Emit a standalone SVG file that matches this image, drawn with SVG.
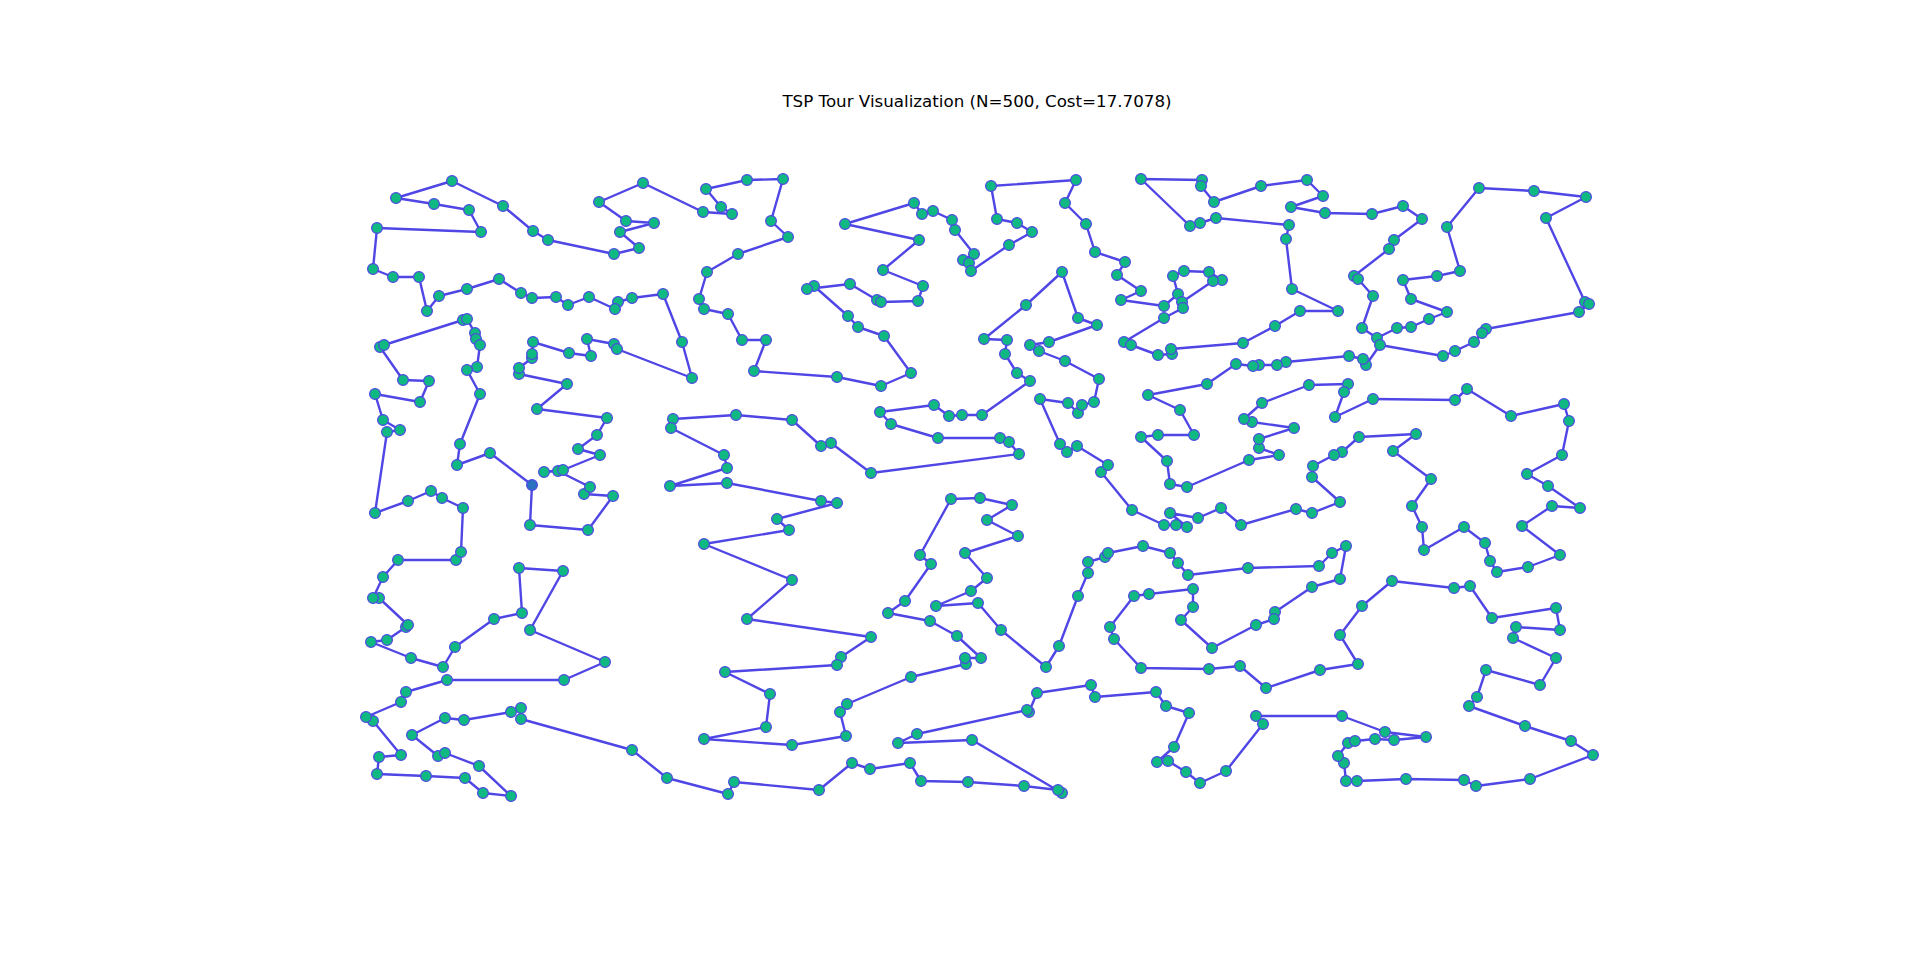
<svg xmlns="http://www.w3.org/2000/svg" width="1907" height="965" viewBox="0 0 1907 965">
<style>
.bg{fill:#ffffff}
.t{font-family:"DejaVu Sans","Liberation Sans",sans-serif;font-size:16.7px;fill:#000;text-anchor:middle}
.e{fill:none;stroke:#4f46e5;stroke-width:2.4;stroke-linejoin:round;stroke-linecap:round}
#nodes circle{fill:#10b981;stroke:#4f46e5;stroke-width:1.2}
#nodes #start circle{fill:#2b72c0}
</style>
<rect class="bg" x="0" y="0" width="1907" height="965"/>
<text class="t" x="977" y="107">TSP Tour Visualization (N=500, Cost=17.7078)</text>
<g id="connectors">
<path class="e" d="M532 485 L530 525 L588 530 L613 496 L584 494 L590 487 L558 471 L544 472 L563 470 L600 455 L578 449 L597 435 L607 418 L537 409 L567 384 L519 374 L519 368 L532 358 L532 354 L533 342 L569 353 L591 356 L587 339 L614 344 L617 349 L692 378 L682 342 L663 294 L632 298 L618 302 L615 309 L589 297 L568 305 L556 297 L532 298 L521 293 L499 279 L467 289 L439 296 L427 311 L419 277 L393 277 L373 269 L377 228 L481 232 L469 210 L434 204 L396 198 L452 181 L503 206 L533 231 L548 240 L614 254 L639 248 L620 232 L654 223 L626 221 L599 202 L643 183 L703 212 L732 214 L721 207 L706 189 L747 180 L783 179 L771 221 L788 237 L738 254 L707 272 L699 299 L704 309 L728 314 L742 340 L766 340 L754 371 L837 377 L881 386 L911 373 L884 336 L858 327 L848 316 L814 286 L807 289 L850 284 L877 300 L881 302 L918 301 L923 286 L883 270 L919 240 L845 224 L914 203 L922 214 L933 211 L952 220 L955 230 L974 254 L963 260 L969 263 L971 271 L1009 245 L1032 232 L1017 223 L997 219 L991 186 L1076 180 L1065 203 L1086 224 L1095 252 L1125 262 L1117 275 L1141 291 L1121 300 L1164 306 L1178 294 L1173 276 L1184 271 L1209 272 L1222 280 L1213 281 L1182 302 L1183 308 L1164 318 L1124 342 L1131 345 L1158 355 L1172 354 L1171 349 L1243 343 L1275 326 L1300 311 L1338 311 L1292 289 L1286 239 L1289 225 L1216 218 L1200 223 L1190 226 L1141 179 L1202 180 L1201 186 L1214 202 L1261 186 L1307 180 L1323 196 L1291 207 L1325 213 L1372 214 L1403 206 L1422 219 L1394 240 L1389 249 L1354 276 L1358 279 L1373 296 L1362 328 L1377 338 L1397 328 L1411 327 L1429 319 L1447 312 L1411 299 L1403 280 L1437 276 L1460 271 L1447 227 L1479 188 L1534 191 L1586 197 L1546 218 L1585 302 L1589 304 L1579 312 L1486 329 L1482 333 L1474 342 L1455 351 L1443 356 L1380 345 L1366 365 L1363 359 L1349 356 L1286 362 L1277 365 L1259 365 L1253 366 L1236 364 L1207 384 L1148 395 L1180 410 L1194 435 L1158 435 L1141 437 L1167 461 L1170 484 L1187 487 L1249 460 L1279 455 L1259 448 L1259 439 L1294 428 L1252 422 L1244 419 L1262 403 L1309 385 L1348 384 L1344 392 L1335 417 L1373 399 L1455 400 L1467 389 L1511 416 L1564 404 L1569 421 L1562 455 L1527 474 L1548 486 L1580 508 L1552 506 L1522 526 L1560 555 L1528 567 L1497 572 L1490 561 L1485 543 L1464 527 L1424 550 L1422 527 L1412 506 L1431 479 L1393 451 L1416 434 L1359 437 L1342 452 L1334 455 L1313 466 L1312 477 L1340 502 L1312 513 L1296 509 L1241 525 L1221 508 L1198 518 L1170 513 L1187 527 L1176 525 L1164 525 L1132 510 L1101 472 L1108 465 L1077 446 L1067 452 L1060 444 L1040 399 L1068 403 L1078 413 L1082 405 L1094 402 L1099 379 L1065 361 L1039 351 L1030 345 L1049 342 L1097 325 L1078 318 L1062 272 L1026 305 L984 339 L1007 340 L1005 354 L1017 373 L1030 381 L982 415 L962 415 L949 416 L934 405 L880 412 L891 424 L938 438 L1000 438 L1009 442 L1019 454 L871 473 L831 443 L821 446 L792 420 L736 415 L673 419 L671 428 L724 455 L727 468 L670 486 L727 483 L821 501 L837 503 L777 519 L789 530 L704 544 L792 580 L747 619 L871 637 L841 657 L837 665 L725 672 L770 694 L766 727 L704 739 L792 745 L846 736 L840 712 L847 704 L911 677 L966 664 L965 658 L981 658 L957 636 L930 621 L888 613 L905 601 L931 564 L920 555 L951 499 L980 498 L1012 505 L987 520 L1018 536 L965 553 L987 578 L971 591 L936 606 L978 603 L1001 630 L1046 667 L1059 646 L1078 596 L1088 573 L1088 562 L1105 557 L1108 553 L1143 546 L1170 553 L1178 563 L1188 575 L1248 568 L1319 566 L1332 553 L1346 546 L1340 579 L1312 587 L1275 612 L1274 619 L1256 625 L1212 648 L1181 620 L1193 607 L1193 589 L1149 594 L1134 596 L1110 627 L1114 639 L1141 668 L1209 669 L1240 666 L1266 688 L1320 670 L1358 664 L1340 635 L1362 606 L1392 581 L1454 588 L1470 586 L1492 618 L1556 608 L1560 630 L1516 627 L1513 638 L1556 658 L1540 685 L1486 670 L1477 697 L1469 706 L1525 726 L1571 741 L1593 755 L1530 779 L1476 786 L1464 780 L1406 779 L1357 781 L1346 781 L1344 763 L1338 756 L1348 743 L1355 741 L1375 739 L1394 740 L1426 737 L1385 732 L1342 716 L1256 716 L1263 724 L1226 771 L1200 783 L1186 772 L1168 761 L1157 762 L1174 747 L1189 713 L1166 706 L1156 692 L1095 697 L1091 685 L1037 693 L1029 712 L1027 710 L917 734 L898 743 L972 740 L1062 793 L1058 790 L1024 786 L968 782 L921 781 L910 763 L870 769 L852 763 L819 790 L734 782 L728 794 L667 778 L632 750 L521 719 L521 708 L511 712 L464 720 L445 718 L412 735 L438 756 L445 753 L479 766 L511 796 L483 793 L465 778 L426 776 L377 774 L379 757 L401 755 L373 721 L366 717 L401 702 L406 692 L447 680 L564 680 L605 662 L530 630 L563 571 L519 568 L522 613 L494 619 L455 647 L443 667 L411 658 L371 642 L387 640 L406 627 L408 625 L379 598 L373 598 L383 577 L398 560 L456 560 L461 552 L463 508 L442 498 L431 491 L408 501 L375 513 L387 432 L400 430 L383 420 L375 394 L420 402 L429 381 L403 380 L380 347 L384 345 L463 320 L467 319 L475 333 L476 339 L480 345 L477 367 L467 370 L480 394 L460 444 L457 465 L490 453 Z"/>
</g>
<g id="nodes">
<g id="n1"><circle cx="530" cy="525" r="5.4"/></g><g id="n2"><circle cx="588" cy="530" r="5.4"/></g><g id="n3"><circle cx="613" cy="496" r="5.4"/></g><g id="n4"><circle cx="584" cy="494" r="5.4"/></g><g id="n5"><circle cx="590" cy="487" r="5.4"/></g><g id="n6"><circle cx="558" cy="471" r="5.4"/></g><g id="n7"><circle cx="544" cy="472" r="5.4"/></g><g id="n8"><circle cx="563" cy="470" r="5.4"/></g><g id="n9"><circle cx="600" cy="455" r="5.4"/></g><g id="n10"><circle cx="578" cy="449" r="5.4"/></g>
<g id="n11"><circle cx="597" cy="435" r="5.4"/></g><g id="n12"><circle cx="607" cy="418" r="5.4"/></g><g id="n13"><circle cx="537" cy="409" r="5.4"/></g><g id="n14"><circle cx="567" cy="384" r="5.4"/></g><g id="n15"><circle cx="519" cy="374" r="5.4"/></g><g id="n16"><circle cx="519" cy="368" r="5.4"/></g><g id="n17"><circle cx="532" cy="358" r="5.4"/></g><g id="n18"><circle cx="532" cy="354" r="5.4"/></g><g id="n19"><circle cx="533" cy="342" r="5.4"/></g><g id="n20"><circle cx="569" cy="353" r="5.4"/></g>
<g id="n21"><circle cx="591" cy="356" r="5.4"/></g><g id="n22"><circle cx="587" cy="339" r="5.4"/></g><g id="n23"><circle cx="614" cy="344" r="5.4"/></g><g id="n24"><circle cx="617" cy="349" r="5.4"/></g><g id="n25"><circle cx="692" cy="378" r="5.4"/></g><g id="n26"><circle cx="682" cy="342" r="5.4"/></g><g id="n27"><circle cx="663" cy="294" r="5.4"/></g><g id="n28"><circle cx="632" cy="298" r="5.4"/></g><g id="n29"><circle cx="618" cy="302" r="5.4"/></g><g id="n30"><circle cx="615" cy="309" r="5.4"/></g>
<g id="n31"><circle cx="589" cy="297" r="5.4"/></g><g id="n32"><circle cx="568" cy="305" r="5.4"/></g><g id="n33"><circle cx="556" cy="297" r="5.4"/></g><g id="n34"><circle cx="532" cy="298" r="5.4"/></g><g id="n35"><circle cx="521" cy="293" r="5.4"/></g><g id="n36"><circle cx="499" cy="279" r="5.4"/></g><g id="n37"><circle cx="467" cy="289" r="5.4"/></g><g id="n38"><circle cx="439" cy="296" r="5.4"/></g><g id="n39"><circle cx="427" cy="311" r="5.4"/></g><g id="n40"><circle cx="419" cy="277" r="5.4"/></g>
<g id="n41"><circle cx="393" cy="277" r="5.4"/></g><g id="n42"><circle cx="373" cy="269" r="5.4"/></g><g id="n43"><circle cx="377" cy="228" r="5.4"/></g><g id="n44"><circle cx="481" cy="232" r="5.4"/></g><g id="n45"><circle cx="469" cy="210" r="5.4"/></g><g id="n46"><circle cx="434" cy="204" r="5.4"/></g><g id="n47"><circle cx="396" cy="198" r="5.4"/></g><g id="n48"><circle cx="452" cy="181" r="5.4"/></g><g id="n49"><circle cx="503" cy="206" r="5.4"/></g><g id="n50"><circle cx="533" cy="231" r="5.4"/></g>
<g id="n51"><circle cx="548" cy="240" r="5.4"/></g><g id="n52"><circle cx="614" cy="254" r="5.4"/></g><g id="n53"><circle cx="639" cy="248" r="5.4"/></g><g id="n54"><circle cx="620" cy="232" r="5.4"/></g><g id="n55"><circle cx="654" cy="223" r="5.4"/></g><g id="n56"><circle cx="626" cy="221" r="5.4"/></g><g id="n57"><circle cx="599" cy="202" r="5.4"/></g><g id="n58"><circle cx="643" cy="183" r="5.4"/></g><g id="n59"><circle cx="703" cy="212" r="5.4"/></g><g id="n60"><circle cx="732" cy="214" r="5.4"/></g>
<g id="n61"><circle cx="721" cy="207" r="5.4"/></g><g id="n62"><circle cx="706" cy="189" r="5.4"/></g><g id="n63"><circle cx="747" cy="180" r="5.4"/></g><g id="n64"><circle cx="783" cy="179" r="5.4"/></g><g id="n65"><circle cx="771" cy="221" r="5.4"/></g><g id="n66"><circle cx="788" cy="237" r="5.4"/></g><g id="n67"><circle cx="738" cy="254" r="5.4"/></g><g id="n68"><circle cx="707" cy="272" r="5.4"/></g><g id="n69"><circle cx="699" cy="299" r="5.4"/></g><g id="n70"><circle cx="704" cy="309" r="5.4"/></g>
<g id="n71"><circle cx="728" cy="314" r="5.4"/></g><g id="n72"><circle cx="742" cy="340" r="5.4"/></g><g id="n73"><circle cx="766" cy="340" r="5.4"/></g><g id="n74"><circle cx="754" cy="371" r="5.4"/></g><g id="n75"><circle cx="837" cy="377" r="5.4"/></g><g id="n76"><circle cx="881" cy="386" r="5.4"/></g><g id="n77"><circle cx="911" cy="373" r="5.4"/></g><g id="n78"><circle cx="884" cy="336" r="5.4"/></g><g id="n79"><circle cx="858" cy="327" r="5.4"/></g><g id="n80"><circle cx="848" cy="316" r="5.4"/></g>
<g id="n81"><circle cx="814" cy="286" r="5.4"/></g><g id="n82"><circle cx="807" cy="289" r="5.4"/></g><g id="n83"><circle cx="850" cy="284" r="5.4"/></g><g id="n84"><circle cx="877" cy="300" r="5.4"/></g><g id="n85"><circle cx="881" cy="302" r="5.4"/></g><g id="n86"><circle cx="918" cy="301" r="5.4"/></g><g id="n87"><circle cx="923" cy="286" r="5.4"/></g><g id="n88"><circle cx="883" cy="270" r="5.4"/></g><g id="n89"><circle cx="919" cy="240" r="5.4"/></g><g id="n90"><circle cx="845" cy="224" r="5.4"/></g>
<g id="n91"><circle cx="914" cy="203" r="5.4"/></g><g id="n92"><circle cx="922" cy="214" r="5.4"/></g><g id="n93"><circle cx="933" cy="211" r="5.4"/></g><g id="n94"><circle cx="952" cy="220" r="5.4"/></g><g id="n95"><circle cx="955" cy="230" r="5.4"/></g><g id="n96"><circle cx="974" cy="254" r="5.4"/></g><g id="n97"><circle cx="963" cy="260" r="5.4"/></g><g id="n98"><circle cx="969" cy="263" r="5.4"/></g><g id="n99"><circle cx="971" cy="271" r="5.4"/></g><g id="n100"><circle cx="1009" cy="245" r="5.4"/></g>
<g id="n101"><circle cx="1032" cy="232" r="5.4"/></g><g id="n102"><circle cx="1017" cy="223" r="5.4"/></g><g id="n103"><circle cx="997" cy="219" r="5.4"/></g><g id="n104"><circle cx="991" cy="186" r="5.4"/></g><g id="n105"><circle cx="1076" cy="180" r="5.4"/></g><g id="n106"><circle cx="1065" cy="203" r="5.4"/></g><g id="n107"><circle cx="1086" cy="224" r="5.4"/></g><g id="n108"><circle cx="1095" cy="252" r="5.4"/></g><g id="n109"><circle cx="1125" cy="262" r="5.4"/></g><g id="n110"><circle cx="1117" cy="275" r="5.4"/></g>
<g id="n111"><circle cx="1141" cy="291" r="5.4"/></g><g id="n112"><circle cx="1121" cy="300" r="5.4"/></g><g id="n113"><circle cx="1164" cy="306" r="5.4"/></g><g id="n114"><circle cx="1178" cy="294" r="5.4"/></g><g id="n115"><circle cx="1173" cy="276" r="5.4"/></g><g id="n116"><circle cx="1184" cy="271" r="5.4"/></g><g id="n117"><circle cx="1209" cy="272" r="5.4"/></g><g id="n118"><circle cx="1222" cy="280" r="5.4"/></g><g id="n119"><circle cx="1213" cy="281" r="5.4"/></g><g id="n120"><circle cx="1182" cy="302" r="5.4"/></g>
<g id="n121"><circle cx="1183" cy="308" r="5.4"/></g><g id="n122"><circle cx="1164" cy="318" r="5.4"/></g><g id="n123"><circle cx="1124" cy="342" r="5.4"/></g><g id="n124"><circle cx="1131" cy="345" r="5.4"/></g><g id="n125"><circle cx="1158" cy="355" r="5.4"/></g><g id="n126"><circle cx="1172" cy="354" r="5.4"/></g><g id="n127"><circle cx="1171" cy="349" r="5.4"/></g><g id="n128"><circle cx="1243" cy="343" r="5.4"/></g><g id="n129"><circle cx="1275" cy="326" r="5.4"/></g><g id="n130"><circle cx="1300" cy="311" r="5.4"/></g>
<g id="n131"><circle cx="1338" cy="311" r="5.4"/></g><g id="n132"><circle cx="1292" cy="289" r="5.4"/></g><g id="n133"><circle cx="1286" cy="239" r="5.4"/></g><g id="n134"><circle cx="1289" cy="225" r="5.4"/></g><g id="n135"><circle cx="1216" cy="218" r="5.4"/></g><g id="n136"><circle cx="1200" cy="223" r="5.4"/></g><g id="n137"><circle cx="1190" cy="226" r="5.4"/></g><g id="n138"><circle cx="1141" cy="179" r="5.4"/></g><g id="n139"><circle cx="1202" cy="180" r="5.4"/></g><g id="n140"><circle cx="1201" cy="186" r="5.4"/></g>
<g id="n141"><circle cx="1214" cy="202" r="5.4"/></g><g id="n142"><circle cx="1261" cy="186" r="5.4"/></g><g id="n143"><circle cx="1307" cy="180" r="5.4"/></g><g id="n144"><circle cx="1323" cy="196" r="5.4"/></g><g id="n145"><circle cx="1291" cy="207" r="5.4"/></g><g id="n146"><circle cx="1325" cy="213" r="5.4"/></g><g id="n147"><circle cx="1372" cy="214" r="5.4"/></g><g id="n148"><circle cx="1403" cy="206" r="5.4"/></g><g id="n149"><circle cx="1422" cy="219" r="5.4"/></g><g id="n150"><circle cx="1394" cy="240" r="5.4"/></g>
<g id="n151"><circle cx="1389" cy="249" r="5.4"/></g><g id="n152"><circle cx="1354" cy="276" r="5.4"/></g><g id="n153"><circle cx="1358" cy="279" r="5.4"/></g><g id="n154"><circle cx="1373" cy="296" r="5.4"/></g><g id="n155"><circle cx="1362" cy="328" r="5.4"/></g><g id="n156"><circle cx="1377" cy="338" r="5.4"/></g><g id="n157"><circle cx="1397" cy="328" r="5.4"/></g><g id="n158"><circle cx="1411" cy="327" r="5.4"/></g><g id="n159"><circle cx="1429" cy="319" r="5.4"/></g><g id="n160"><circle cx="1447" cy="312" r="5.4"/></g>
<g id="n161"><circle cx="1411" cy="299" r="5.4"/></g><g id="n162"><circle cx="1403" cy="280" r="5.4"/></g><g id="n163"><circle cx="1437" cy="276" r="5.4"/></g><g id="n164"><circle cx="1460" cy="271" r="5.4"/></g><g id="n165"><circle cx="1447" cy="227" r="5.4"/></g><g id="n166"><circle cx="1479" cy="188" r="5.4"/></g><g id="n167"><circle cx="1534" cy="191" r="5.4"/></g><g id="n168"><circle cx="1586" cy="197" r="5.4"/></g><g id="n169"><circle cx="1546" cy="218" r="5.4"/></g><g id="n170"><circle cx="1585" cy="302" r="5.4"/></g>
<g id="n171"><circle cx="1589" cy="304" r="5.4"/></g><g id="n172"><circle cx="1579" cy="312" r="5.4"/></g><g id="n173"><circle cx="1486" cy="329" r="5.4"/></g><g id="n174"><circle cx="1482" cy="333" r="5.4"/></g><g id="n175"><circle cx="1474" cy="342" r="5.4"/></g><g id="n176"><circle cx="1455" cy="351" r="5.4"/></g><g id="n177"><circle cx="1443" cy="356" r="5.4"/></g><g id="n178"><circle cx="1380" cy="345" r="5.4"/></g><g id="n179"><circle cx="1366" cy="365" r="5.4"/></g><g id="n180"><circle cx="1363" cy="359" r="5.4"/></g>
<g id="n181"><circle cx="1349" cy="356" r="5.4"/></g><g id="n182"><circle cx="1286" cy="362" r="5.4"/></g><g id="n183"><circle cx="1277" cy="365" r="5.4"/></g><g id="n184"><circle cx="1259" cy="365" r="5.4"/></g><g id="n185"><circle cx="1253" cy="366" r="5.4"/></g><g id="n186"><circle cx="1236" cy="364" r="5.4"/></g><g id="n187"><circle cx="1207" cy="384" r="5.4"/></g><g id="n188"><circle cx="1148" cy="395" r="5.4"/></g><g id="n189"><circle cx="1180" cy="410" r="5.4"/></g><g id="n190"><circle cx="1194" cy="435" r="5.4"/></g>
<g id="n191"><circle cx="1158" cy="435" r="5.4"/></g><g id="n192"><circle cx="1141" cy="437" r="5.4"/></g><g id="n193"><circle cx="1167" cy="461" r="5.4"/></g><g id="n194"><circle cx="1170" cy="484" r="5.4"/></g><g id="n195"><circle cx="1187" cy="487" r="5.4"/></g><g id="n196"><circle cx="1249" cy="460" r="5.4"/></g><g id="n197"><circle cx="1279" cy="455" r="5.4"/></g><g id="n198"><circle cx="1259" cy="448" r="5.4"/></g><g id="n199"><circle cx="1259" cy="439" r="5.4"/></g><g id="n200"><circle cx="1294" cy="428" r="5.4"/></g>
<g id="n201"><circle cx="1252" cy="422" r="5.4"/></g><g id="n202"><circle cx="1244" cy="419" r="5.4"/></g><g id="n203"><circle cx="1262" cy="403" r="5.4"/></g><g id="n204"><circle cx="1309" cy="385" r="5.4"/></g><g id="n205"><circle cx="1348" cy="384" r="5.4"/></g><g id="n206"><circle cx="1344" cy="392" r="5.4"/></g><g id="n207"><circle cx="1335" cy="417" r="5.4"/></g><g id="n208"><circle cx="1373" cy="399" r="5.4"/></g><g id="n209"><circle cx="1455" cy="400" r="5.4"/></g><g id="n210"><circle cx="1467" cy="389" r="5.4"/></g>
<g id="n211"><circle cx="1511" cy="416" r="5.4"/></g><g id="n212"><circle cx="1564" cy="404" r="5.4"/></g><g id="n213"><circle cx="1569" cy="421" r="5.4"/></g><g id="n214"><circle cx="1562" cy="455" r="5.4"/></g><g id="n215"><circle cx="1527" cy="474" r="5.4"/></g><g id="n216"><circle cx="1548" cy="486" r="5.4"/></g><g id="n217"><circle cx="1580" cy="508" r="5.4"/></g><g id="n218"><circle cx="1552" cy="506" r="5.4"/></g><g id="n219"><circle cx="1522" cy="526" r="5.4"/></g><g id="n220"><circle cx="1560" cy="555" r="5.4"/></g>
<g id="n221"><circle cx="1528" cy="567" r="5.4"/></g><g id="n222"><circle cx="1497" cy="572" r="5.4"/></g><g id="n223"><circle cx="1490" cy="561" r="5.4"/></g><g id="n224"><circle cx="1485" cy="543" r="5.4"/></g><g id="n225"><circle cx="1464" cy="527" r="5.4"/></g><g id="n226"><circle cx="1424" cy="550" r="5.4"/></g><g id="n227"><circle cx="1422" cy="527" r="5.4"/></g><g id="n228"><circle cx="1412" cy="506" r="5.4"/></g><g id="n229"><circle cx="1431" cy="479" r="5.4"/></g><g id="n230"><circle cx="1393" cy="451" r="5.4"/></g>
<g id="n231"><circle cx="1416" cy="434" r="5.4"/></g><g id="n232"><circle cx="1359" cy="437" r="5.4"/></g><g id="n233"><circle cx="1342" cy="452" r="5.4"/></g><g id="n234"><circle cx="1334" cy="455" r="5.4"/></g><g id="n235"><circle cx="1313" cy="466" r="5.4"/></g><g id="n236"><circle cx="1312" cy="477" r="5.4"/></g><g id="n237"><circle cx="1340" cy="502" r="5.4"/></g><g id="n238"><circle cx="1312" cy="513" r="5.4"/></g><g id="n239"><circle cx="1296" cy="509" r="5.4"/></g><g id="n240"><circle cx="1241" cy="525" r="5.4"/></g>
<g id="n241"><circle cx="1221" cy="508" r="5.4"/></g><g id="n242"><circle cx="1198" cy="518" r="5.4"/></g><g id="n243"><circle cx="1170" cy="513" r="5.4"/></g><g id="n244"><circle cx="1187" cy="527" r="5.4"/></g><g id="n245"><circle cx="1176" cy="525" r="5.4"/></g><g id="n246"><circle cx="1164" cy="525" r="5.4"/></g><g id="n247"><circle cx="1132" cy="510" r="5.4"/></g><g id="n248"><circle cx="1101" cy="472" r="5.4"/></g><g id="n249"><circle cx="1108" cy="465" r="5.4"/></g><g id="n250"><circle cx="1077" cy="446" r="5.4"/></g>
<g id="n251"><circle cx="1067" cy="452" r="5.4"/></g><g id="n252"><circle cx="1060" cy="444" r="5.4"/></g><g id="n253"><circle cx="1040" cy="399" r="5.4"/></g><g id="n254"><circle cx="1068" cy="403" r="5.4"/></g><g id="n255"><circle cx="1078" cy="413" r="5.4"/></g><g id="n256"><circle cx="1082" cy="405" r="5.4"/></g><g id="n257"><circle cx="1094" cy="402" r="5.4"/></g><g id="n258"><circle cx="1099" cy="379" r="5.4"/></g><g id="n259"><circle cx="1065" cy="361" r="5.4"/></g><g id="n260"><circle cx="1039" cy="351" r="5.4"/></g>
<g id="n261"><circle cx="1030" cy="345" r="5.4"/></g><g id="n262"><circle cx="1049" cy="342" r="5.4"/></g><g id="n263"><circle cx="1097" cy="325" r="5.4"/></g><g id="n264"><circle cx="1078" cy="318" r="5.4"/></g><g id="n265"><circle cx="1062" cy="272" r="5.4"/></g><g id="n266"><circle cx="1026" cy="305" r="5.4"/></g><g id="n267"><circle cx="984" cy="339" r="5.4"/></g><g id="n268"><circle cx="1007" cy="340" r="5.4"/></g><g id="n269"><circle cx="1005" cy="354" r="5.4"/></g><g id="n270"><circle cx="1017" cy="373" r="5.4"/></g>
<g id="n271"><circle cx="1030" cy="381" r="5.4"/></g><g id="n272"><circle cx="982" cy="415" r="5.4"/></g><g id="n273"><circle cx="962" cy="415" r="5.4"/></g><g id="n274"><circle cx="949" cy="416" r="5.4"/></g><g id="n275"><circle cx="934" cy="405" r="5.4"/></g><g id="n276"><circle cx="880" cy="412" r="5.4"/></g><g id="n277"><circle cx="891" cy="424" r="5.4"/></g><g id="n278"><circle cx="938" cy="438" r="5.4"/></g><g id="n279"><circle cx="1000" cy="438" r="5.4"/></g><g id="n280"><circle cx="1009" cy="442" r="5.4"/></g>
<g id="n281"><circle cx="1019" cy="454" r="5.4"/></g><g id="n282"><circle cx="871" cy="473" r="5.4"/></g><g id="n283"><circle cx="831" cy="443" r="5.4"/></g><g id="n284"><circle cx="821" cy="446" r="5.4"/></g><g id="n285"><circle cx="792" cy="420" r="5.4"/></g><g id="n286"><circle cx="736" cy="415" r="5.4"/></g><g id="n287"><circle cx="673" cy="419" r="5.4"/></g><g id="n288"><circle cx="671" cy="428" r="5.4"/></g><g id="n289"><circle cx="724" cy="455" r="5.4"/></g><g id="n290"><circle cx="727" cy="468" r="5.4"/></g>
<g id="n291"><circle cx="670" cy="486" r="5.4"/></g><g id="n292"><circle cx="727" cy="483" r="5.4"/></g><g id="n293"><circle cx="821" cy="501" r="5.4"/></g><g id="n294"><circle cx="837" cy="503" r="5.4"/></g><g id="n295"><circle cx="777" cy="519" r="5.4"/></g><g id="n296"><circle cx="789" cy="530" r="5.4"/></g><g id="n297"><circle cx="704" cy="544" r="5.4"/></g><g id="n298"><circle cx="792" cy="580" r="5.4"/></g><g id="n299"><circle cx="747" cy="619" r="5.4"/></g><g id="n300"><circle cx="871" cy="637" r="5.4"/></g>
<g id="n301"><circle cx="841" cy="657" r="5.4"/></g><g id="n302"><circle cx="837" cy="665" r="5.4"/></g><g id="n303"><circle cx="725" cy="672" r="5.4"/></g><g id="n304"><circle cx="770" cy="694" r="5.4"/></g><g id="n305"><circle cx="766" cy="727" r="5.4"/></g><g id="n306"><circle cx="704" cy="739" r="5.4"/></g><g id="n307"><circle cx="792" cy="745" r="5.4"/></g><g id="n308"><circle cx="846" cy="736" r="5.4"/></g><g id="n309"><circle cx="840" cy="712" r="5.4"/></g><g id="n310"><circle cx="847" cy="704" r="5.4"/></g>
<g id="n311"><circle cx="911" cy="677" r="5.4"/></g><g id="n312"><circle cx="966" cy="664" r="5.4"/></g><g id="n313"><circle cx="965" cy="658" r="5.4"/></g><g id="n314"><circle cx="981" cy="658" r="5.4"/></g><g id="n315"><circle cx="957" cy="636" r="5.4"/></g><g id="n316"><circle cx="930" cy="621" r="5.4"/></g><g id="n317"><circle cx="888" cy="613" r="5.4"/></g><g id="n318"><circle cx="905" cy="601" r="5.4"/></g><g id="n319"><circle cx="931" cy="564" r="5.4"/></g><g id="n320"><circle cx="920" cy="555" r="5.4"/></g>
<g id="n321"><circle cx="951" cy="499" r="5.4"/></g><g id="n322"><circle cx="980" cy="498" r="5.4"/></g><g id="n323"><circle cx="1012" cy="505" r="5.4"/></g><g id="n324"><circle cx="987" cy="520" r="5.4"/></g><g id="n325"><circle cx="1018" cy="536" r="5.4"/></g><g id="n326"><circle cx="965" cy="553" r="5.4"/></g><g id="n327"><circle cx="987" cy="578" r="5.4"/></g><g id="n328"><circle cx="971" cy="591" r="5.4"/></g><g id="n329"><circle cx="936" cy="606" r="5.4"/></g><g id="n330"><circle cx="978" cy="603" r="5.4"/></g>
<g id="n331"><circle cx="1001" cy="630" r="5.4"/></g><g id="n332"><circle cx="1046" cy="667" r="5.4"/></g><g id="n333"><circle cx="1059" cy="646" r="5.4"/></g><g id="n334"><circle cx="1078" cy="596" r="5.4"/></g><g id="n335"><circle cx="1088" cy="573" r="5.4"/></g><g id="n336"><circle cx="1088" cy="562" r="5.4"/></g><g id="n337"><circle cx="1105" cy="557" r="5.4"/></g><g id="n338"><circle cx="1108" cy="553" r="5.4"/></g><g id="n339"><circle cx="1143" cy="546" r="5.4"/></g><g id="n340"><circle cx="1170" cy="553" r="5.4"/></g>
<g id="n341"><circle cx="1178" cy="563" r="5.4"/></g><g id="n342"><circle cx="1188" cy="575" r="5.4"/></g><g id="n343"><circle cx="1248" cy="568" r="5.4"/></g><g id="n344"><circle cx="1319" cy="566" r="5.4"/></g><g id="n345"><circle cx="1332" cy="553" r="5.4"/></g><g id="n346"><circle cx="1346" cy="546" r="5.4"/></g><g id="n347"><circle cx="1340" cy="579" r="5.4"/></g><g id="n348"><circle cx="1312" cy="587" r="5.4"/></g><g id="n349"><circle cx="1275" cy="612" r="5.4"/></g><g id="n350"><circle cx="1274" cy="619" r="5.4"/></g>
<g id="n351"><circle cx="1256" cy="625" r="5.4"/></g><g id="n352"><circle cx="1212" cy="648" r="5.4"/></g><g id="n353"><circle cx="1181" cy="620" r="5.4"/></g><g id="n354"><circle cx="1193" cy="607" r="5.4"/></g><g id="n355"><circle cx="1193" cy="589" r="5.4"/></g><g id="n356"><circle cx="1149" cy="594" r="5.4"/></g><g id="n357"><circle cx="1134" cy="596" r="5.4"/></g><g id="n358"><circle cx="1110" cy="627" r="5.4"/></g><g id="n359"><circle cx="1114" cy="639" r="5.4"/></g><g id="n360"><circle cx="1141" cy="668" r="5.4"/></g>
<g id="n361"><circle cx="1209" cy="669" r="5.4"/></g><g id="n362"><circle cx="1240" cy="666" r="5.4"/></g><g id="n363"><circle cx="1266" cy="688" r="5.4"/></g><g id="n364"><circle cx="1320" cy="670" r="5.4"/></g><g id="n365"><circle cx="1358" cy="664" r="5.4"/></g><g id="n366"><circle cx="1340" cy="635" r="5.4"/></g><g id="n367"><circle cx="1362" cy="606" r="5.4"/></g><g id="n368"><circle cx="1392" cy="581" r="5.4"/></g><g id="n369"><circle cx="1454" cy="588" r="5.4"/></g><g id="n370"><circle cx="1470" cy="586" r="5.4"/></g>
<g id="n371"><circle cx="1492" cy="618" r="5.4"/></g><g id="n372"><circle cx="1556" cy="608" r="5.4"/></g><g id="n373"><circle cx="1560" cy="630" r="5.4"/></g><g id="n374"><circle cx="1516" cy="627" r="5.4"/></g><g id="n375"><circle cx="1513" cy="638" r="5.4"/></g><g id="n376"><circle cx="1556" cy="658" r="5.4"/></g><g id="n377"><circle cx="1540" cy="685" r="5.4"/></g><g id="n378"><circle cx="1486" cy="670" r="5.4"/></g><g id="n379"><circle cx="1477" cy="697" r="5.4"/></g><g id="n380"><circle cx="1469" cy="706" r="5.4"/></g>
<g id="n381"><circle cx="1525" cy="726" r="5.4"/></g><g id="n382"><circle cx="1571" cy="741" r="5.4"/></g><g id="n383"><circle cx="1593" cy="755" r="5.4"/></g><g id="n384"><circle cx="1530" cy="779" r="5.4"/></g><g id="n385"><circle cx="1476" cy="786" r="5.4"/></g><g id="n386"><circle cx="1464" cy="780" r="5.4"/></g><g id="n387"><circle cx="1406" cy="779" r="5.4"/></g><g id="n388"><circle cx="1357" cy="781" r="5.4"/></g><g id="n389"><circle cx="1346" cy="781" r="5.4"/></g><g id="n390"><circle cx="1344" cy="763" r="5.4"/></g>
<g id="n391"><circle cx="1338" cy="756" r="5.4"/></g><g id="n392"><circle cx="1348" cy="743" r="5.4"/></g><g id="n393"><circle cx="1355" cy="741" r="5.4"/></g><g id="n394"><circle cx="1375" cy="739" r="5.4"/></g><g id="n395"><circle cx="1394" cy="740" r="5.4"/></g><g id="n396"><circle cx="1426" cy="737" r="5.4"/></g><g id="n397"><circle cx="1385" cy="732" r="5.4"/></g><g id="n398"><circle cx="1342" cy="716" r="5.4"/></g><g id="n399"><circle cx="1256" cy="716" r="5.4"/></g><g id="n400"><circle cx="1263" cy="724" r="5.4"/></g>
<g id="n401"><circle cx="1226" cy="771" r="5.4"/></g><g id="n402"><circle cx="1200" cy="783" r="5.4"/></g><g id="n403"><circle cx="1186" cy="772" r="5.4"/></g><g id="n404"><circle cx="1168" cy="761" r="5.4"/></g><g id="n405"><circle cx="1157" cy="762" r="5.4"/></g><g id="n406"><circle cx="1174" cy="747" r="5.4"/></g><g id="n407"><circle cx="1189" cy="713" r="5.4"/></g><g id="n408"><circle cx="1166" cy="706" r="5.4"/></g><g id="n409"><circle cx="1156" cy="692" r="5.4"/></g><g id="n410"><circle cx="1095" cy="697" r="5.4"/></g>
<g id="n411"><circle cx="1091" cy="685" r="5.4"/></g><g id="n412"><circle cx="1037" cy="693" r="5.4"/></g><g id="n413"><circle cx="1029" cy="712" r="5.4"/></g><g id="n414"><circle cx="1027" cy="710" r="5.4"/></g><g id="n415"><circle cx="917" cy="734" r="5.4"/></g><g id="n416"><circle cx="898" cy="743" r="5.4"/></g><g id="n417"><circle cx="972" cy="740" r="5.4"/></g><g id="n418"><circle cx="1062" cy="793" r="5.4"/></g><g id="n419"><circle cx="1058" cy="790" r="5.4"/></g><g id="n420"><circle cx="1024" cy="786" r="5.4"/></g>
<g id="n421"><circle cx="968" cy="782" r="5.4"/></g><g id="n422"><circle cx="921" cy="781" r="5.4"/></g><g id="n423"><circle cx="910" cy="763" r="5.4"/></g><g id="n424"><circle cx="870" cy="769" r="5.4"/></g><g id="n425"><circle cx="852" cy="763" r="5.4"/></g><g id="n426"><circle cx="819" cy="790" r="5.4"/></g><g id="n427"><circle cx="734" cy="782" r="5.4"/></g><g id="n428"><circle cx="728" cy="794" r="5.4"/></g><g id="n429"><circle cx="667" cy="778" r="5.4"/></g><g id="n430"><circle cx="632" cy="750" r="5.4"/></g>
<g id="n431"><circle cx="521" cy="719" r="5.4"/></g><g id="n432"><circle cx="521" cy="708" r="5.4"/></g><g id="n433"><circle cx="511" cy="712" r="5.4"/></g><g id="n434"><circle cx="464" cy="720" r="5.4"/></g><g id="n435"><circle cx="445" cy="718" r="5.4"/></g><g id="n436"><circle cx="412" cy="735" r="5.4"/></g><g id="n437"><circle cx="438" cy="756" r="5.4"/></g><g id="n438"><circle cx="445" cy="753" r="5.4"/></g><g id="n439"><circle cx="479" cy="766" r="5.4"/></g><g id="n440"><circle cx="511" cy="796" r="5.4"/></g>
<g id="n441"><circle cx="483" cy="793" r="5.4"/></g><g id="n442"><circle cx="465" cy="778" r="5.4"/></g><g id="n443"><circle cx="426" cy="776" r="5.4"/></g><g id="n444"><circle cx="377" cy="774" r="5.4"/></g><g id="n445"><circle cx="379" cy="757" r="5.4"/></g><g id="n446"><circle cx="401" cy="755" r="5.4"/></g><g id="n447"><circle cx="373" cy="721" r="5.4"/></g><g id="n448"><circle cx="366" cy="717" r="5.4"/></g><g id="n449"><circle cx="401" cy="702" r="5.4"/></g><g id="n450"><circle cx="406" cy="692" r="5.4"/></g>
<g id="n451"><circle cx="447" cy="680" r="5.4"/></g><g id="n452"><circle cx="564" cy="680" r="5.4"/></g><g id="n453"><circle cx="605" cy="662" r="5.4"/></g><g id="n454"><circle cx="530" cy="630" r="5.4"/></g><g id="n455"><circle cx="563" cy="571" r="5.4"/></g><g id="n456"><circle cx="519" cy="568" r="5.4"/></g><g id="n457"><circle cx="522" cy="613" r="5.4"/></g><g id="n458"><circle cx="494" cy="619" r="5.4"/></g><g id="n459"><circle cx="455" cy="647" r="5.4"/></g><g id="n460"><circle cx="443" cy="667" r="5.4"/></g>
<g id="n461"><circle cx="411" cy="658" r="5.4"/></g><g id="n462"><circle cx="371" cy="642" r="5.4"/></g><g id="n463"><circle cx="387" cy="640" r="5.4"/></g><g id="n464"><circle cx="406" cy="627" r="5.4"/></g><g id="n465"><circle cx="408" cy="625" r="5.4"/></g><g id="n466"><circle cx="379" cy="598" r="5.4"/></g><g id="n467"><circle cx="373" cy="598" r="5.4"/></g><g id="n468"><circle cx="383" cy="577" r="5.4"/></g><g id="n469"><circle cx="398" cy="560" r="5.4"/></g><g id="n470"><circle cx="456" cy="560" r="5.4"/></g>
<g id="n471"><circle cx="461" cy="552" r="5.4"/></g><g id="n472"><circle cx="463" cy="508" r="5.4"/></g><g id="n473"><circle cx="442" cy="498" r="5.4"/></g><g id="n474"><circle cx="431" cy="491" r="5.4"/></g><g id="n475"><circle cx="408" cy="501" r="5.4"/></g><g id="n476"><circle cx="375" cy="513" r="5.4"/></g><g id="n477"><circle cx="387" cy="432" r="5.4"/></g><g id="n478"><circle cx="400" cy="430" r="5.4"/></g><g id="n479"><circle cx="383" cy="420" r="5.4"/></g><g id="n480"><circle cx="375" cy="394" r="5.4"/></g>
<g id="n481"><circle cx="420" cy="402" r="5.4"/></g><g id="n482"><circle cx="429" cy="381" r="5.4"/></g><g id="n483"><circle cx="403" cy="380" r="5.4"/></g><g id="n484"><circle cx="380" cy="347" r="5.4"/></g><g id="n485"><circle cx="384" cy="345" r="5.4"/></g><g id="n486"><circle cx="463" cy="320" r="5.4"/></g><g id="n487"><circle cx="467" cy="319" r="5.4"/></g><g id="n488"><circle cx="475" cy="333" r="5.4"/></g><g id="n489"><circle cx="476" cy="339" r="5.4"/></g><g id="n490"><circle cx="480" cy="345" r="5.4"/></g>
<g id="n491"><circle cx="477" cy="367" r="5.4"/></g><g id="n492"><circle cx="467" cy="370" r="5.4"/></g><g id="n493"><circle cx="480" cy="394" r="5.4"/></g><g id="n494"><circle cx="460" cy="444" r="5.4"/></g><g id="n495"><circle cx="457" cy="465" r="5.4"/></g><g id="n496"><circle cx="490" cy="453" r="5.4"/></g>
<g id="start"><circle cx="532" cy="485" r="5.4"/></g>
</g>
</svg>
